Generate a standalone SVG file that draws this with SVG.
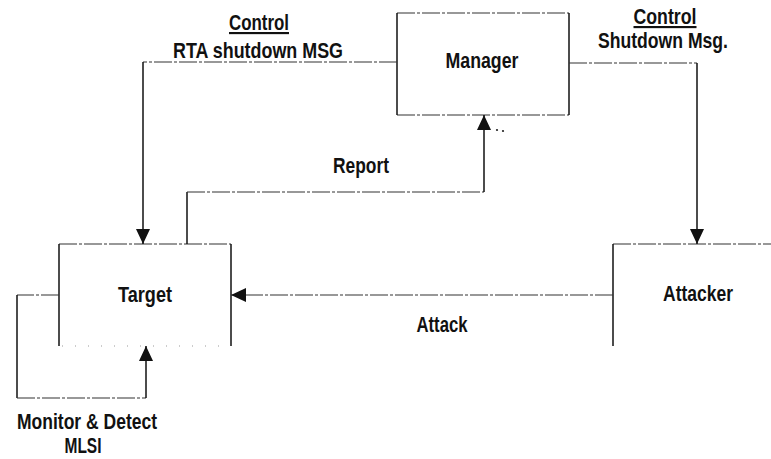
<svg xmlns="http://www.w3.org/2000/svg" width="771" height="459" viewBox="0 0 771 459">
  <style>
    .lbl { font-family: "Liberation Sans", Arial, sans-serif; font-weight: bold; font-size: 21.5px; fill: #111; text-anchor: middle; }
    .ul { text-decoration: underline; }
    .h { fill: none; stroke: #333; stroke-width: 1.2; stroke-dasharray: 18 2 3 2; }
    .v { fill: none; stroke: #111; stroke-width: 1.5; }
    .faint { fill: none; stroke: #999; stroke-width: 1; stroke-dasharray: 1 12; }
  </style>
  <defs>
    <marker id="arrow" markerUnits="userSpaceOnUse" markerWidth="17" markerHeight="15" refX="15" refY="7" orient="auto">
      <path d="M0,0 L15,7 L0,14 z" fill="#111"/>
    </marker>
  </defs>
  <rect width="771" height="459" fill="#fff"/>

  <g id="manager">
    <line class="h" x1="397" y1="13" x2="569" y2="13"/>
    <line class="h" x1="397" y1="115" x2="569" y2="115"/>
    <line class="v" x1="397" y1="13" x2="397" y2="115"/>
    <line class="v" x1="569" y1="13" x2="569" y2="115"/>
    <text class="lbl" x="482" y="68" textLength="73" lengthAdjust="spacingAndGlyphs">Manager</text>
  </g>

  <g id="target">
    <line class="h" x1="59" y1="244" x2="231" y2="244"/>
    <line class="v" x1="59" y1="244" x2="59" y2="346"/>
    <line class="v" x1="231" y1="244" x2="231" y2="346"/>
    <line class="faint" x1="62" y1="346" x2="228" y2="346"/>
    <text class="lbl" x="145" y="302" textLength="54" lengthAdjust="spacingAndGlyphs">Target</text>
  </g>

  <g id="attacker">
    <line class="h" x1="613" y1="244" x2="771" y2="244"/>
    <line class="v" x1="613" y1="244" x2="613" y2="346"/>
    <text class="lbl" x="698" y="301" textLength="70" lengthAdjust="spacingAndGlyphs">Attacker</text>
  </g>

  <g id="connectors">
    <!-- Manager -> Target control message -->
    <path class="h" d="M397 62 H143"/>
    <path class="v" d="M143 62 V244" marker-end="url(#arrow)"/>
    <!-- Manager -> Attacker control message -->
    <path class="h" d="M569 63 H697"/>
    <path class="v" d="M697 63 V244" marker-end="url(#arrow)"/>
    <!-- Target -> Manager report -->
    <path class="v" d="M187 244 V192"/>
    <path class="h" d="M187 192 H484"/>
    <path class="v" d="M484 192 V115" marker-end="url(#arrow)"/>
    <!-- Attacker -> Target attack -->
    <path class="h" d="M613 295 H231" marker-end="url(#arrow)"/>
    <!-- Target self-monitoring loop -->
    <path class="h" d="M59 295 H17"/>
    <path class="v" d="M17 295 V398"/>
    <path class="h" d="M17 398 H146"/>
    <path class="v" d="M146 398 V346" marker-end="url(#arrow)"/>
    <circle cx="497" cy="130" r="1.1" fill="#222"/>
    <circle cx="503" cy="131" r="1.1" fill="#222"/>
  </g>

  <g id="labels">
    <text class="lbl ul" x="259" y="30" textLength="60" lengthAdjust="spacingAndGlyphs">Control</text>
    <text class="lbl" x="258" y="58" textLength="170" lengthAdjust="spacingAndGlyphs">RTA shutdown MSG</text>
    <text class="lbl ul" x="665" y="24" textLength="63" lengthAdjust="spacingAndGlyphs">Control</text>
    <text class="lbl" x="663" y="48" textLength="130" lengthAdjust="spacingAndGlyphs">Shutdown Msg.</text>
    <text class="lbl" x="361" y="173" textLength="56" lengthAdjust="spacingAndGlyphs">Report</text>
    <text class="lbl" x="442" y="332" textLength="51" lengthAdjust="spacingAndGlyphs">Attack</text>
    <text class="lbl" x="87" y="429" textLength="140" lengthAdjust="spacingAndGlyphs">Monitor &amp; Detect</text>
    <text class="lbl" x="83" y="453" textLength="37" lengthAdjust="spacingAndGlyphs">MLSI</text>
  </g>
</svg>
